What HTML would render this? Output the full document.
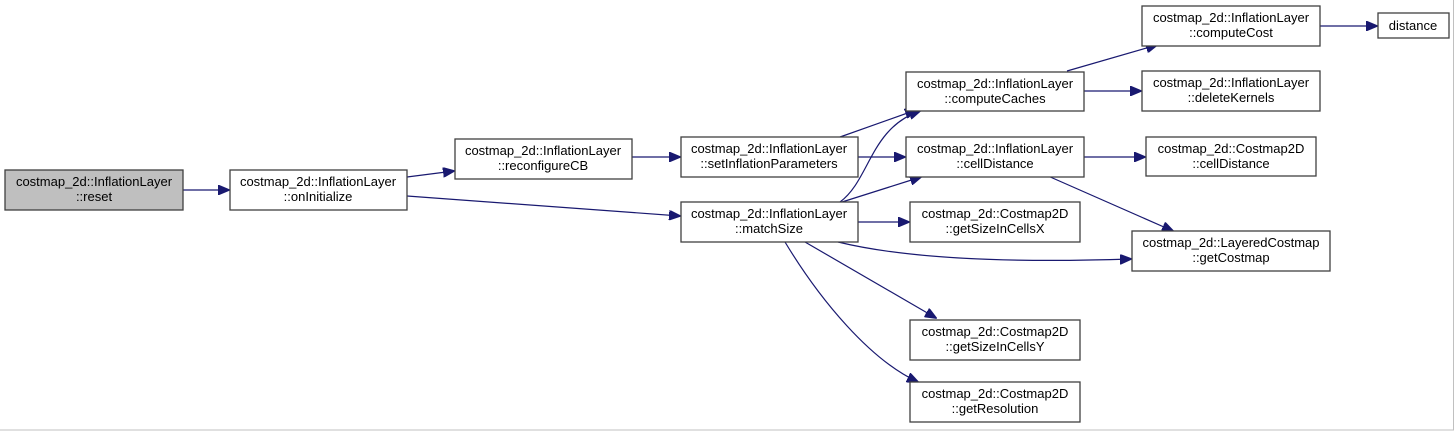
<!DOCTYPE html>
<html><head><meta charset="utf-8"><style>
html,body{margin:0;padding:0;background:#fff;}
svg{display:block;}
text{font-family:"Liberation Sans",Arial,sans-serif;font-size:13px;fill:#000;text-anchor:middle;}
.b{fill:#fff;stroke:#404040;stroke-width:1.3;}
.e{fill:none;stroke:#191970;stroke-width:1.2;}
</style></head><body>
<svg width="1455" height="431" viewBox="0 0 1455 431">
<defs><marker id="a" markerWidth="12" markerHeight="10" refX="11" refY="5" orient="auto" markerUnits="userSpaceOnUse"><path d="M0,0 L12,5 L0,10 z" fill="#191970" stroke="#191970"/></marker></defs>
<rect x="-1" y="-1" width="1454.5" height="431" fill="#fff" stroke="#c0c0c0"/>
<!-- edges -->
<path class="e" marker-end="url(#a)" d="M183,190 L229,190"/>
<path class="e" marker-end="url(#a)" d="M407,177 L454,171"/>
<path class="e" marker-end="url(#a)" d="M407,196 L680,216"/>
<path class="e" marker-end="url(#a)" d="M632,157 L680,157"/>
<path class="e" marker-end="url(#a)" d="M840,137 L916,110"/>
<path class="e" marker-end="url(#a)" d="M858,157 L905,157"/>
<path class="e" marker-end="url(#a)" d="M840,202 C870,180 870,128 920,111"/>
<path class="e" marker-end="url(#a)" d="M842,202 L921,177"/>
<path class="e" marker-end="url(#a)" d="M858,222 L909,222"/>
<path class="e" marker-end="url(#a)" d="M838,242 C920,262 1040,262 1131,259"/>
<path class="e" marker-end="url(#a)" d="M805,242 L936,318"/>
<path class="e" marker-end="url(#a)" d="M785,242 C820,300 870,360 918,382"/>
<path class="e" marker-end="url(#a)" d="M1067,71 L1157,45"/>
<path class="e" marker-end="url(#a)" d="M1084,91 L1141,91"/>
<path class="e" marker-end="url(#a)" d="M1084,157 L1145,157"/>
<path class="e" marker-end="url(#a)" d="M1048,176 L1173,231"/>
<path class="e" marker-end="url(#a)" d="M1320,26 L1377,26"/>
<!-- nodes -->
<rect x="5" y="170" width="178" height="40" fill="#bfbfbf" stroke="#404040" stroke-width="1.3"/>
<text x="94" y="186">costmap_2d::InflationLayer</text><text x="94" y="201">::reset</text>
<rect class="b" x="230" y="170" width="177" height="40"/>
<text x="318" y="186">costmap_2d::InflationLayer</text><text x="318" y="201">::onInitialize</text>
<rect class="b" x="455" y="139" width="177" height="40"/>
<text x="543" y="155">costmap_2d::InflationLayer</text><text x="543" y="170">::reconfigureCB</text>
<rect class="b" x="681" y="137" width="177" height="40"/>
<text x="769" y="153">costmap_2d::InflationLayer</text><text x="769" y="168">::setInflationParameters</text>
<rect class="b" x="681" y="202" width="177" height="40"/>
<text x="769" y="218">costmap_2d::InflationLayer</text><text x="769" y="233">::matchSize</text>
<rect class="b" x="906" y="72" width="178" height="39"/>
<text x="995" y="88">costmap_2d::InflationLayer</text><text x="995" y="103">::computeCaches</text>
<rect class="b" x="906" y="137" width="178" height="40"/>
<text x="995" y="153">costmap_2d::InflationLayer</text><text x="995" y="168">::cellDistance</text>
<rect class="b" x="910" y="202" width="170" height="40"/>
<text x="995" y="218">costmap_2d::Costmap2D</text><text x="995" y="233">::getSizeInCellsX</text>
<rect class="b" x="910" y="320" width="170" height="40"/>
<text x="995" y="336">costmap_2d::Costmap2D</text><text x="995" y="351">::getSizeInCellsY</text>
<rect class="b" x="910" y="382" width="170" height="40"/>
<text x="995" y="398">costmap_2d::Costmap2D</text><text x="995" y="413">::getResolution</text>
<rect class="b" x="1142" y="6" width="178" height="40"/>
<text x="1231" y="22">costmap_2d::InflationLayer</text><text x="1231" y="37">::computeCost</text>
<rect class="b" x="1378" y="13" width="71" height="25"/>
<text x="1413" y="30">distance</text>
<rect class="b" x="1142" y="71" width="178" height="40"/>
<text x="1231" y="87">costmap_2d::InflationLayer</text><text x="1231" y="102">::deleteKernels</text>
<rect class="b" x="1146" y="137" width="170" height="39"/>
<text x="1231" y="153">costmap_2d::Costmap2D</text><text x="1231" y="168">::cellDistance</text>
<rect class="b" x="1132" y="231" width="198" height="40"/>
<text x="1231" y="247">costmap_2d::LayeredCostmap</text><text x="1231" y="262">::getCostmap</text>
</svg>
</body></html>
